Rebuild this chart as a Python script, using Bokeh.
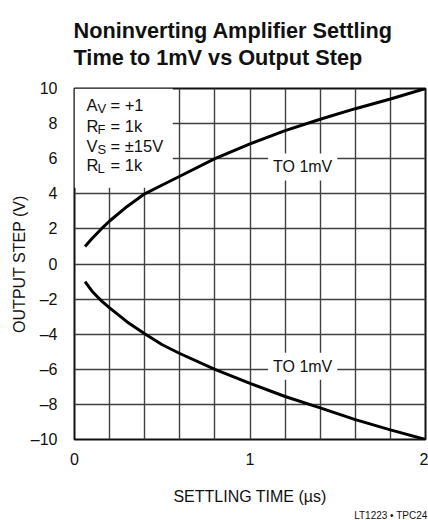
from bokeh.plotting import figure
from bokeh.models import Range1d, FixedTicker, Label, Title
from bokeh.embed import file_html
from bokeh.resources import INLINE

# ---- data ----
settle_time_us = [0.06, 0.1, 0.15, 0.2, 0.3, 0.4, 0.5, 0.6, 0.8, 1.0, 1.2, 1.4, 1.6, 1.8, 2.0]
pos_step_v = [1.0, 1.45, 1.97, 2.45, 3.28, 4.0, 4.5, 5.0, 6.0, 6.85, 7.6, 8.25, 8.85, 9.4, 10.0]
neg_step_v = [-1.0, -1.55, -2.07, -2.5, -3.3, -3.98, -4.6, -5.1, -6.0, -6.8, -7.55, -8.2, -8.87, -9.45, -10.0]

x_ticks = [0, 1, 2]
x_grid = [0, 0.2, 0.4, 0.6, 0.8, 1.0, 1.2, 1.4, 1.6, 1.8, 2.0]
y_ticks = [-10, -8, -6, -4, -2, 0, 2, 4, 6, 8, 10]
y_tick_labels = ["–10", "–8", "–6", "–4", "–2", "0", "2", "4", "6", "8", "10"]

title_lines = ["Noninverting Amplifier Settling", "Time to 1mV vs Output Step"]
x_label = "SETTLING TIME (µs)"
y_label = "OUTPUT STEP (V)"
footer = "LT1223 • TPC24"
curve_label = "TO 1mV"
cond_main = ["A", "R", "V", "R"]
cond_sub = ["V", "F", "S", "L"]
cond_rest = ["= +1", "= 1k", "= ±15V", "= 1k"]

FONT = "Liberation Sans"
INK = "#111111"

p = figure(width=428, height=520, output_backend="svg", toolbar_location=None,
           x_range=Range1d(0, 2), y_range=Range1d(-10, 10),
           min_border_left=74, min_border_right=3, min_border_top=88, min_border_bottom=81)
p.title.visible = False

# two-line title, left aligned with the frame
p.add_layout(Title(text="\n".join(title_lines), align="left", vertical_align="top",
                   text_font=FONT, text_font_size="21.7px", text_font_style="bold",
                   text_line_height=1.08, text_color=INK, standoff=34, offset=-1), "above")

# footer below the x axis, right aligned
p.add_layout(Title(text=footer, align="right", text_font=FONT, text_font_size="10px",
                   text_font_style="normal", text_color=INK, standoff=0, offset=-2), "below")

# axes
p.xaxis.ticker = FixedTicker(ticks=x_ticks)
p.yaxis.ticker = FixedTicker(ticks=y_ticks)
p.yaxis.major_label_overrides = {t: s for t, s in zip(y_ticks, y_tick_labels)}
for ax in (p.xaxis[0], p.yaxis[0]):
    ax.axis_line_color = None
    ax.major_tick_line_color = None
    ax.minor_tick_line_color = None
    ax.major_label_text_font = FONT
    ax.major_label_text_font_size = "16px"
    ax.major_label_text_color = INK
    ax.axis_label_text_font = FONT
    ax.axis_label_text_font_size = "16px"
    ax.axis_label_text_font_style = "normal"
    ax.axis_label_text_color = INK
p.xaxis.axis_label = x_label
p.yaxis.axis_label = y_label
p.xaxis.major_label_standoff = 7
p.xaxis.axis_label_standoff = 20
p.yaxis.major_label_standoff = 11
p.yaxis.axis_label_standoff = 0

# grid
p.xgrid.ticker = FixedTicker(ticks=x_grid)
p.ygrid.ticker = FixedTicker(ticks=y_ticks)
for g in (p.xgrid[0], p.ygrid[0]):
    g.grid_line_color = "#404040"
    g.grid_line_width = 1.4

p.outline_line_color = INK
p.outline_line_width = 2
p.background_fill_color = "white"
p.border_fill_color = "white"

# white mask behind the conditions text
p.quad(left=[0], right=[0.56], bottom=[4.35], top=[10], fill_color="white", line_color=None)

# curves
p.line(settle_time_us, pos_step_v, line_color="black", line_width=3)
p.line(settle_time_us, neg_step_v, line_color="black", line_width=3)

# curve labels
for yv in (5.53, -5.82):
    p.add_layout(Label(x=1.3, y=yv, text=curve_label, text_align="center", text_baseline="middle",
                       text_font=FONT, text_font_size="16px", text_color=INK,
                       background_fill_color="white", padding=5))

# conditions block
base_off = [-16, -37, -57, -76]
for m, s, r, yo in zip(cond_main, cond_sub, cond_rest, base_off):
    p.add_layout(Label(x=0, y=10, x_offset=12, y_offset=yo, text=m, text_baseline="alphabetic",
                       text_font=FONT, text_font_size="16.5px", text_color=INK))
    p.add_layout(Label(x=0, y=10, x_offset=23, y_offset=yo - 3.5, text=s, text_baseline="alphabetic",
                       text_font=FONT, text_font_size="13px", text_color=INK))
    p.add_layout(Label(x=0, y=10, x_offset=36, y_offset=yo, text=r, text_baseline="alphabetic",
                       text_font=FONT, text_font_size="16.5px", text_color=INK))

open("out.html", "w").write(file_html(p, INLINE))
